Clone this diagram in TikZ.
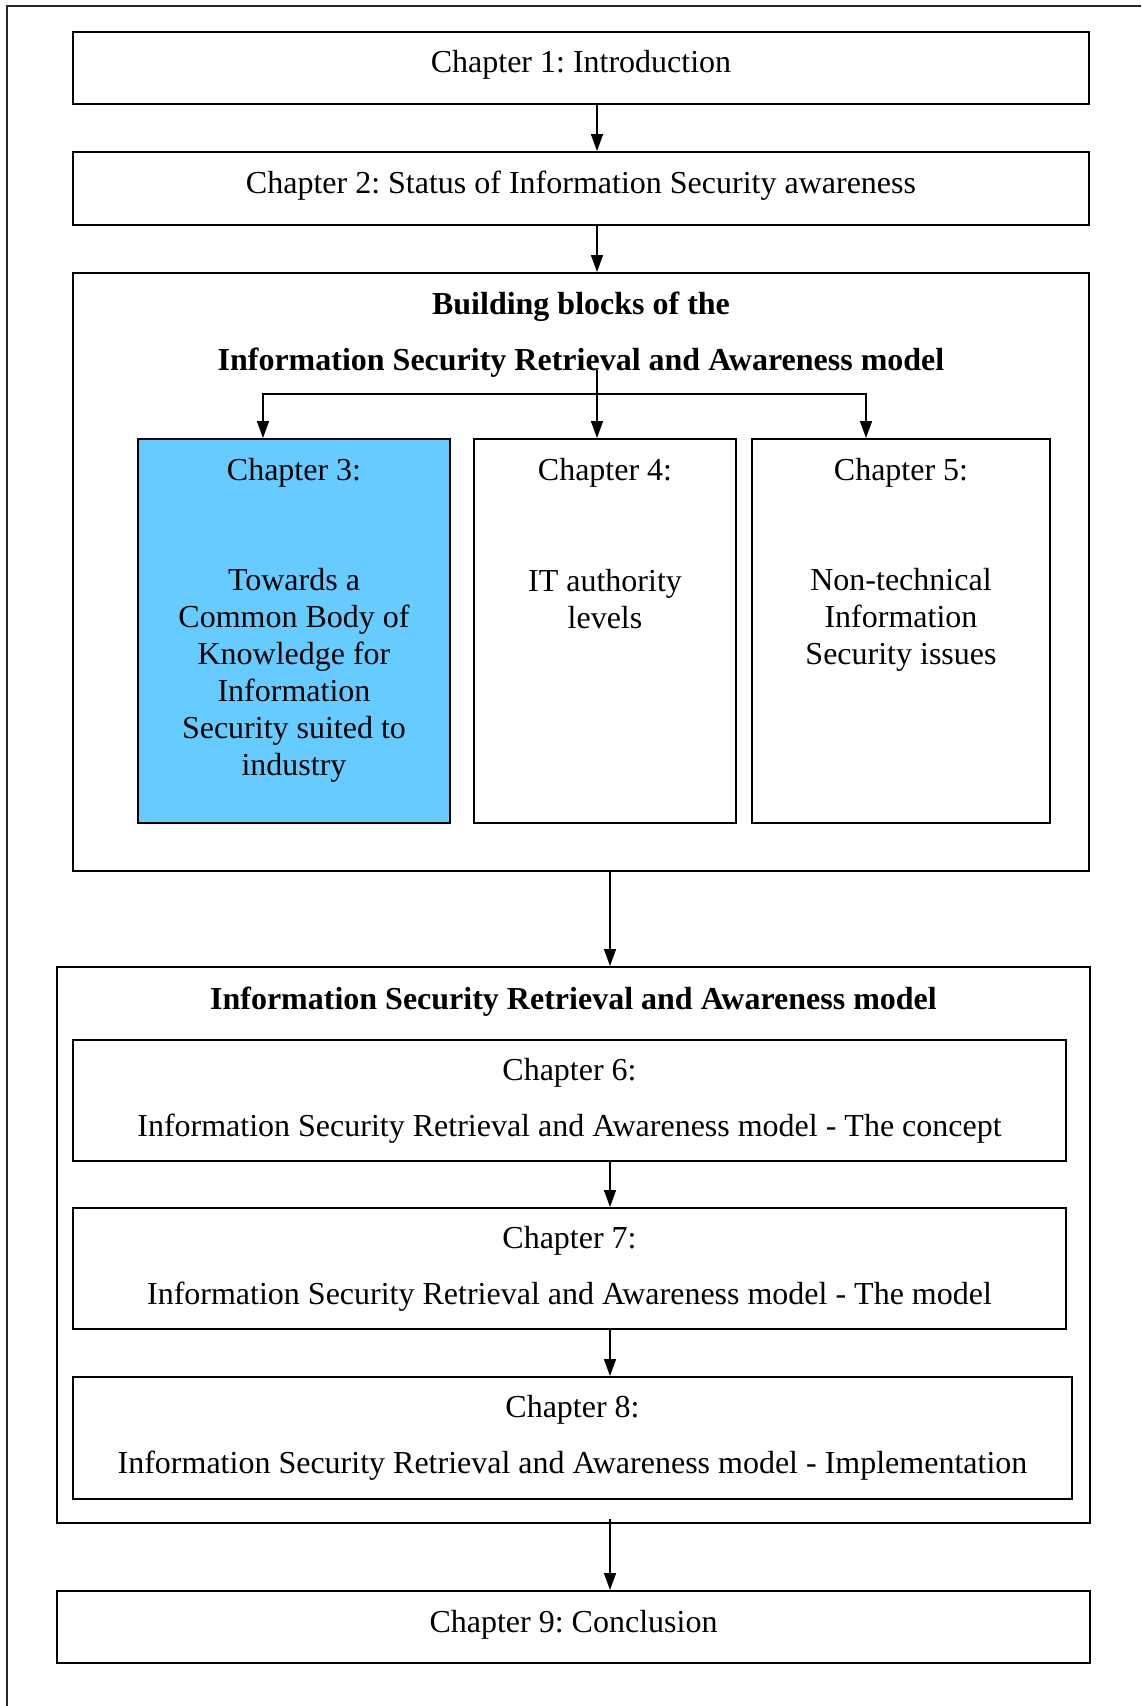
\documentclass[tikz,border=0pt]{standalone}
\usepackage{fontspec}
\setmainfont{Liberation Serif}
\usetikzlibrary{arrows.meta}
\definecolor{chblue}{HTML}{66CCFF}
\frenchspacing
\begin{document}
\begin{tikzpicture}[x=1pt,y=-1pt,
  box/.style={draw=black, line width=2pt, inner sep=0pt, fill=white, align=center},
  txt/.style={inner sep=0pt, align=center},
  arr/.style={line width=1.6pt, -{Triangle[length=17pt,width=12pt]}},
  ln/.style={line width=1.6pt},
  font=\fontsize{32}{37}\selectfont\frenchspacing]
\useasboundingbox (0,0) rectangle (1141,1706);
% outer frame (top and left edges only visible)
\coordinate (fbl) at (7,1706);
\coordinate (ftl) at (7,6);
\coordinate (ftr) at (1141,6);
\draw[line width=2pt, black!85] (fbl) -- (ftl) -- (ftr);

% top boxes
\node[box, minimum width=1016, minimum height=72] (c1) at (581,68) {};
\node[txt] (c1t) at (581,65) {Chapter 1: Introduction};
\node[box, minimum width=1016, minimum height=73] (c2) at (581,188.5) {};
\node[txt] (c2t) at (581,185.5) {Chapter 2: Status of Information Security awareness};

% building blocks container
\node[box, minimum width=1016, minimum height=598] (bb) at (581,572) {};
\node[txt, font=\fontsize{32}{37}\selectfont\bfseries] (bbt) at (581,335) {Building blocks of the\\[19pt]Information Security Retrieval and Awareness model};

\node[box, fill=chblue, minimum width=312, minimum height=384] (c3) at (294,631) {};
\node[box, minimum width=262, minimum height=384] (c4) at (605,631) {};
\node[box, minimum width=298, minimum height=384] (c5) at (901,631) {};

\node[txt] (c3h) at (294,473) {Chapter 3:};
\node[txt] (c3b) at (294,675) {Towards a\\Common Body of\\Knowledge for\\Information\\Security suited to\\industry};
\node[txt] (c4h) at (605,473) {Chapter 4:};
\node[txt] (c4b) at (605,599) {IT authority\\levels};
\node[txt] (c5h) at (901,473) {Chapter 5:};
\node[txt] (c5b) at (901,620) {Non-technical\\Information\\Security issues};

% ISRA container
\node[box, minimum width=1033, minimum height=556] (isra) at (573.5,1245) {};
\node[txt, font=\fontsize{32}{37}\selectfont\bfseries] (israt) at (573.5,1002) {Information Security Retrieval and Awareness model};
\node[box, minimum width=993, minimum height=121] (c6) at (569.5,1100.5) {Chapter 6:\\[19pt]Information Security Retrieval and Awareness model - The concept};
\node[box, minimum width=993, minimum height=121] (c7) at (569.5,1268.5) {Chapter 7:\\[19pt]Information Security Retrieval and Awareness model - The model};
\node[box, minimum width=999, minimum height=122] (c8) at (572.5,1438) {Chapter 8:\\[19pt]Information Security Retrieval and Awareness model - Implementation};

\node[box, minimum width=1033, minimum height=72] (c9) at (573.5,1627) {};
\node[txt] (c9t) at (573.5,1625) {Chapter 9: Conclusion};

% connectors
\coordinate (xa) at (597,0);
\coordinate (xb) at (610,0);
\draw[arr] (c1.south -| xa) -- (c2.north -| xa);
\draw[arr] (c2.south -| xa) -- (bb.north -| xa);

\coordinate (bs) at (597,370);
\coordinate (bj) at (597,394);
\coordinate (xl) at (263,0);
\coordinate (xr) at (866,0);
\draw[ln] (bs) -- (bj);
\draw[arr] (bj) -- (c4.north -| bj);
\draw[arr] (bj) -| (c3.north -| xl);
\draw[arr] (bj) -| (c5.north -| xr);

\draw[arr] (bb.south -| xb) -- (isra.north -| xb);
\draw[arr] (c6.south -| xb) -- (c7.north -| xb);
\draw[arr] (c7.south -| xb) -- (c8.north -| xb);
\coordinate (is) at (610,1519);
\draw[arr] (is) -- (c9.north -| xb);
\end{tikzpicture}
\end{document}
